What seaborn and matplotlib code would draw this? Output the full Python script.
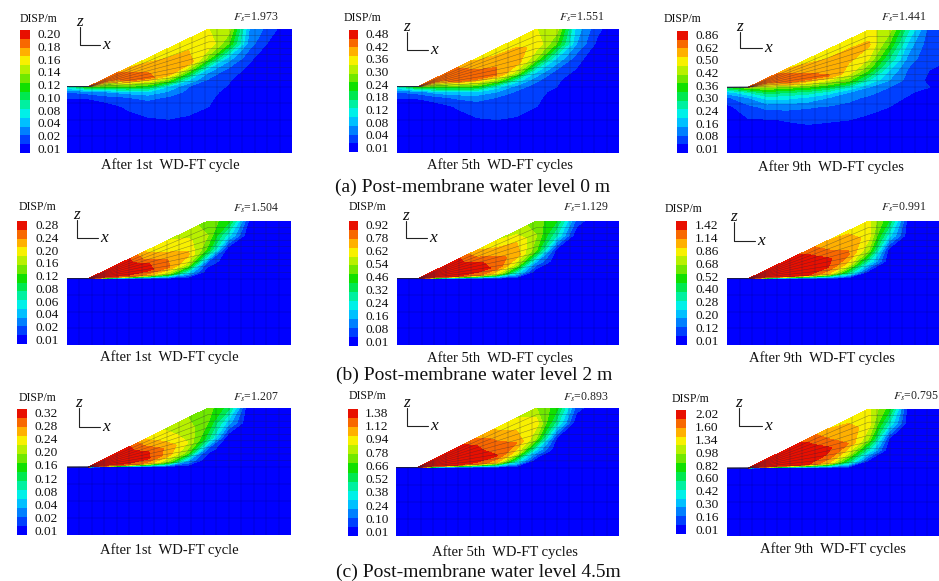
# -*- coding: utf-8 -*-
import numpy as np
import seaborn as sns
import matplotlib.pyplot as plt
from matplotlib.colors import ListedColormap

W, H = 939, 581

sns.set_theme(style='white')
plt.rcParams['font.family'] = ['Liberation Serif', 'DejaVu Serif']
plt.rcParams['mathtext.fontset'] = 'stix'

# colourbar bands, bottom to top
band_colors = ['#0000ff', '#0040ff', '#0080ff', '#00c0ff', '#00f0e8', '#00f0a0', '#00e850',
               '#10e000', '#70e800', '#b8f000', '#f8f000', '#ffb000', '#f86800', '#e81000']

fs = ['1.973', '1.551', '1.441', '1.504', '1.129', '0.991', '1.207', '0.893', '0.795']
captions = ['After 1st  WD-FT cycle', 'After 5th  WD-FT cycles', 'After 9th  WD-FT cycles'] * 3
row_captions = ['(a) Post-membrane water level 0 m', '(b) Post-membrane water level 2 m',
                '(c) Post-membrane water level 4.5m']

ticks = [
    ['0.20', '0.18', '0.16', '0.14', '0.12', '0.10', '0.08', '0.04', '0.02', '0.01'],
    ['0.48', '0.42', '0.36', '0.30', '0.24', '0.18', '0.12', '0.08', '0.04', '0.01'],
    ['0.86', '0.62', '0.50', '0.42', '0.36', '0.30', '0.24', '0.16', '0.08', '0.01'],
    ['0.28', '0.24', '0.20', '0.16', '0.12', '0.08', '0.06', '0.04', '0.02', '0.01'],
    ['0.92', '0.78', '0.62', '0.54', '0.46', '0.32', '0.24', '0.16', '0.08', '0.01'],
    ['1.42', '1.14', '0.86', '0.68', '0.52', '0.40', '0.28', '0.20', '0.12', '0.01'],
    ['0.32', '0.28', '0.24', '0.20', '0.16', '0.12', '0.08', '0.04', '0.02', '0.01'],
    ['1.38', '1.12', '0.94', '0.78', '0.66', '0.52', '0.38', '0.24', '0.10', '0.01'],
    ['2.02', '1.60', '1.34', '0.98', '0.82', '0.60', '0.42', '0.30', '0.16', '0.01'],
]

# field nodes: x along the slope, upper rows are fractions of the height above the toe,
# lower rows are fractions of the depth below it. Values are colourbar band numbers.
node_x = [0, .095, .18, .27, .36, .45, .54, .63, .72, .81, .90, 1]
upper_f = [1, .75, .5, .3, .12, 0]
lower_d = [.08, .16, .3, .5, 1]
toe_x, crest_x, toe_z = .095, .63, .535

a1 = [[5, 12, 13, 11, 10.5, 10.5, 10.5, 10, 9.5, 3, 1.5, 0],
      [5, 12, 13, 12, 11.3, 11, 11, 11, 8, 2.5, .8, 0],
      [5, 11, 11, 13, 12, 11.8, 11.8, 8.5, 3.5, 1.3, 0, 0],
      [5, 10, 9, 12, 12.3, 11.3, 8, 3.5, 1.7, .7, 0, 0],
      [5, 10, 8.5, 9, 9, 7.5, 3.8, 1.8, 1.1, .3, 0, 0],
      [5, 8, 8, 8, 7, 4, 2, 1.5, .9, 0, 0, 0],
      [2, 2.5, 3, 3.5, 4, 2.8, 1.7, 1.3, .7, 0, 0, 0],
      [1.1, 1.2, 1.7, 2, 2.3, 1.9, 1.5, 1.2, .5, 0, 0, 0],
      [0, 0, .5, 1.2, 1.4, 1.4, 1.2, 1, .2, 0, 0, 0],
      [0, 0, 0, .5, .9, .98, .9, .3, 0, 0, 0, 0],
      [0, 0, 0, 0, 0, 0, 0, 0, 0, 0, 0, 0]]
a2 = [[5, 12, 13, 12, 10.7, 10.5, 10.5, 10, 9.5, 3.5, 1.3, 0],
      [5, 12, 13, 12.5, 11.5, 11.2, 11.2, 10.8, 8, 3, .8, 0],
      [5, 11, 11.5, 13, 12.3, 12, 11.5, 9, 4, 1.5, .1, 0],
      [5, 10, 9.5, 12.5, 12.7, 12, 9.5, 4.5, 2, .9, 0, 0],
      [5, 10, 8.5, 9.5, 9.5, 8, 4.5, 2.2, 1.2, .3, 0, 0],
      [5, 8, 8, 8, 7.5, 4.5, 2.5, 1.5, 1, 0, 0, 0],
      [2, 2.5, 3.5, 4, 4, 3, 1.8, 1.3, .7, 0, 0, 0],
      [1.1, 1.2, 1.8, 2.2, 2.4, 2, 1.5, 1.2, .5, 0, 0, 0],
      [0, 0, .4, 1.1, 1.5, 1.5, 1.3, 1, .2, 0, 0, 0],
      [0, 0, 0, .5, .9, .99, .9, .3, 0, 0, 0, 0],
      [0, 0, 0, 0, 0, 0, 0, 0, 0, 0, 0, 0]]
a3 = [[7, 12, 13, 11, 10.5, 10.3, 10.3, 10.3, 9.5, 5, 1.5, 1.1],
      [7, 12, 13, 12, 11.3, 11, 11.2, 11.2, 8, 3.5, 1.3, 1.05],
      [7, 11, 12, 12.7, 12, 11.3, 11, 10, 6, 2.5, 1.2, 1],
      [7, 10, 11, 12.4, 12.4, 12.1, 10.5, 8, 4, 1.8, 1, .9],
      [7, 10, 10, 11, 10, 9, 8, 5, 3, 1.5, .8, .3],
      [7, 9, 9, 8.5, 8, 7, 5, 3, 2, 1.3, 1, 0],
      [3.5, 5, 6.5, 6, 5.5, 4.5, 3, 2.3, 1.6, 1.1, .6, 0],
      [1.8, 3, 4.5, 4.3, 3.8, 3, 2.3, 1.8, 1.3, .9, .3, 0],
      [.7, 1.7, 2.3, 2.3, 2.1, 1.9, 1.7, 1.4, 1, .4, 0, 0],
      [0, .9, .9, 1.05, 1.15, 1.07, 1, .7, .2, 0, 0, 0],
      [0, 0, 0, 0, 0, 0, 0, 0, 0, 0, 0, 0]]
b1 = [[0, 13, 13.5, 13.3, 10.7, 10, 9.5, 8.5, 7.5, 1, 0, 0],
      [0, 13, 13.5, 13.5, 11.5, 10.7, 10.3, 9, 4.5, 0, 0, 0],
      [0, 13, 13.5, 13.5, 13.1, 12, 11.3, 7.5, 0, 0, 0, 0],
      [0, 13, 13.5, 13.5, 13.3, 12.3, 9.5, 2, 0, 0, 0, 0],
      [0, 12, 12.5, 12.8, 11.5, 9, 4, 0, 0, 0, 0, 0]]
b2 = [[0, 13, 13.5, 13.3, 11, 10, 9.5, 8.5, 7, 1.6, 0, 0],
      [0, 13, 13.5, 13.5, 12, 11.3, 11, 9, 5, 0, 0, 0],
      [0, 13, 13.5, 13.5, 13.3, 12.4, 11.6, 8, .5, 0, 0, 0],
      [0, 13, 13.5, 13.5, 13.4, 12.8, 9.5, 3, 0, 0, 0, 0],
      [0, 12, 12.5, 13, 12.5, 10, 4.5, 0, 0, 0, 0, 0]]
b3 = [[0, 13, 13.5, 13.5, 12.5, 11, 10.7, 10.3, 7, 0, 0, 0],
      [0, 13, 13.5, 13.5, 13.3, 12, 11.8, 10.5, 4.5, 0, 0, 0],
      [0, 13, 13.5, 13.5, 13.5, 13.2, 12.1, 9, .5, 0, 0, 0],
      [0, 13, 13.5, 13.5, 13.5, 13, 10.5, 5, 0, 0, 0, 0],
      [0, 12, 12.5, 13.1, 13, 11, 6, .5, 0, 0, 0, 0]]
c1 = [[0, 13, 13.5, 13.3, 10.7, 9.8, 9, 8.5, 6.5, 0, 0, 0],
      [0, 13, 13.5, 13.5, 11.8, 10.4, 9.5, 8, 3.5, 0, 0, 0],
      [0, 13, 13.5, 13.5, 13.1, 11.7, 10, 6.5, 0, 0, 0, 0],
      [0, 13, 13.5, 13.5, 13.2, 11.5, 8.5, 1.5, 0, 0, 0, 0],
      [0, 12, 12.5, 12.8, 11.5, 8.5, 3, 0, 0, 0, 0, 0]]
c2 = [[0, 13, 13.5, 13.5, 12, 10.8, 10, 9, 7.5, 1.5, 0, 0],
      [0, 13, 13.5, 13.5, 13, 11.8, 11, 10.5, 5.5, 0, 0, 0],
      [0, 13, 13.5, 13.5, 13.4, 12.4, 12, 9, 1, 0, 0, 0],
      [0, 13, 13.5, 13.5, 13.5, 13.1, 10.5, 4, 0, 0, 0, 0],
      [0, 12, 12.5, 13, 12.8, 11, 5, 0, 0, 0, 0, 0]]
c3 = [[0, 13, 13.5, 13.5, 12.7, 11, 10.7, 10.3, 7.5, 0, 0, 0],
      [0, 13, 13.5, 13.5, 13.3, 12, 11.5, 10.5, 5, 0, 0, 0],
      [0, 13, 13.5, 13.5, 13.5, 13.2, 12, 9, 1, 0, 0, 0],
      [0, 13, 13.5, 13.5, 13.5, 12.8, 10, 5, 0, 0, 0, 0],
      [0, 12, 12.5, 13.1, 13, 11, 6, .5, 0, 0, 0, 0]]
fields = [a1, a2, a3, b1, b2, b3, c1, c2, c3]

# pixel layout of each panel
panel_box = [(67, 29, 292, 153), (397, 29, 619, 153), (727, 30, 952, 153),
             (67, 221, 291, 345), (397, 221, 619, 345), (727, 221, 952, 345),
             (67, 408, 291, 535), (396, 408, 619, 536), (727, 409, 952, 536)]
cbar_box = [(20, 30, 29.5, 153), (349, 30, 358.5, 152), (677, 31, 688, 153),
            (17, 221, 27, 344), (349, 221, 358.5, 345.5), (676, 221, 687, 345),
            (17, 409, 27, 535), (348, 409, 358, 536), (676, 410, 686, 534)]
tick_x = [38, 366, 695, 36, 366, 695, 34.5, 365, 695]
disp_pos = [(20, 19), (344, 18), (664, 19), (19, 207), (349, 207), (665, 209), (19, 398), (349, 396), (672, 399)]
fs_pos = [(233, 17), (559, 17), (881, 17), (233, 208), (563, 207), (881, 207), (233, 397), (563, 397), (893, 396)]
triad = [(80, 45, 27, 100), (407, 50, 32, 428), (740, 48, 32, 762),
         (77, 238, 220, 98), (406, 238, 221, 427), (734, 241, 222, 755),
         (79, 427, 408, 100), (407, 426, 408, 428), (739, 426, 408, 762)]
caption_pos = [(170, 165), (500, 165), (831, 167), (169, 357), (500, 358), (822, 358),
               (169, 550), (505, 552), (833, 549)]
row_caption_pos = [(473, 187), (474, 375), (478, 572)]


def surface(x):
    x = np.asarray(x, dtype=float)
    return np.where(x <= toe_x, toe_z, np.where(x >= crest_x, 1.0, toe_z + (1 - toe_z) * (x - toe_x) / (crest_x - toe_x)))


def px_axes(fig, box):
    x0, y0, x1, y1 = box
    ax = fig.add_axes([x0 / W, 1 - y1 / H, (x1 - x0) / W, (y1 - y0) / H])
    return ax


def draw_field(ax, values):
    vals = np.array(values, dtype=float)
    if len(vals) == 5:
        # nothing moves below the toe in rows (b) and (c)
        vals = np.vstack([vals, np.zeros((6, len(node_x)))])
    surf = surface(node_x)
    xs = np.array(node_x)
    Z = [toe_z + f * (surf - toe_z) for f in upper_f] + [toe_z * (1 - d) * np.ones(len(xs)) for d in lower_d]
    Z = np.array(Z)
    X = np.tile(xs, (len(Z), 1))
    ax.contourf(X, Z, vals, levels=np.arange(0, 15), colors=band_colors)
    # element mesh, denser in the slope which dulls the colours there
    fine_x = np.linspace(0, 1, 300)
    fine_s = surface(fine_x)
    for f in np.arange(1, 9) / 9:
        ax.plot(fine_x, toe_z + f * (fine_s - toe_z), color='#202040', lw=.35, alpha=.5)
    for d in [0, .25, .5, .75]:
        ax.plot([0, 1], [toe_z * (1 - d)] * 2, color='#000050', lw=.35, alpha=.4)
    for mx in np.arange(1, 18) / 18:
        ax.plot([mx, mx], [0, toe_z], color='#000050', lw=.35, alpha=.4)
        ax.plot([mx, mx], [toe_z, surface(mx)], color='#202040', lw=.35, alpha=.5)
    ax.set_xlim(0, 1)
    ax.set_ylim(0, 1)
    ax.axis('off')


fig = plt.figure(figsize=(W / 100, H / 100), dpi=100, facecolor='white')
cmap = ListedColormap(band_colors)

for box, values in zip(panel_box, fields):
    draw_field(px_axes(fig, box), values)

for box in cbar_box:
    cax = px_axes(fig, box)
    bands = np.arange(14)[::-1].reshape(-1, 1)
    sns.heatmap(bands, cmap=cmap, cbar=False, xticklabels=False, yticklabels=False, ax=cax)

# all the text sits on one overlay in pixel coordinates
over = fig.add_axes([0, 0, 1, 1], facecolor='none')
over.set_xlim(0, W)
over.set_ylim(H, 0)
over.axis('off')

for i in range(9):
    y0, y1 = cbar_box[i][1], cbar_box[i][3]
    first, last = y0 + 5, y1 - 3
    labels = ticks[i]
    for k, lab in enumerate(labels):
        over.text(tick_x[i], first + (last - first) * k / (len(labels) - 1), lab, fontsize=9.6, va='center', ha='left', color='#111111')
    over.text(disp_pos[i][0], disp_pos[i][1], 'DISP/m', fontsize=8.5, va='center', ha='left', color='#111111')
    over.text(fs_pos[i][0], fs_pos[i][1], r'$F_s$=' + fs[i], fontsize=8.5, va='center', ha='left', color='#222222')
    cx, cy, ty, ex = triad[i]
    over.plot([cx, cx, ex], [ty, cy, cy], color='#222222', lw=.8)
    over.text(cx, ty - 5, 'z', fontsize=12.5, style='italic', ha='center', va='center', color='#111111')
    over.text(ex + 6.5, cy, 'x', fontsize=12.5, style='italic', ha='center', va='center', color='#111111')
    over.text(caption_pos[i][0], caption_pos[i][1], captions[i], fontsize=10.5, ha='center', va='center', color='#111111')

for (cx, cy), txt in zip(row_caption_pos, row_captions):
    over.text(cx, cy, txt, fontsize=14, ha='center', va='center', color='#111111')

fig.savefig('out.png', dpi=100)
